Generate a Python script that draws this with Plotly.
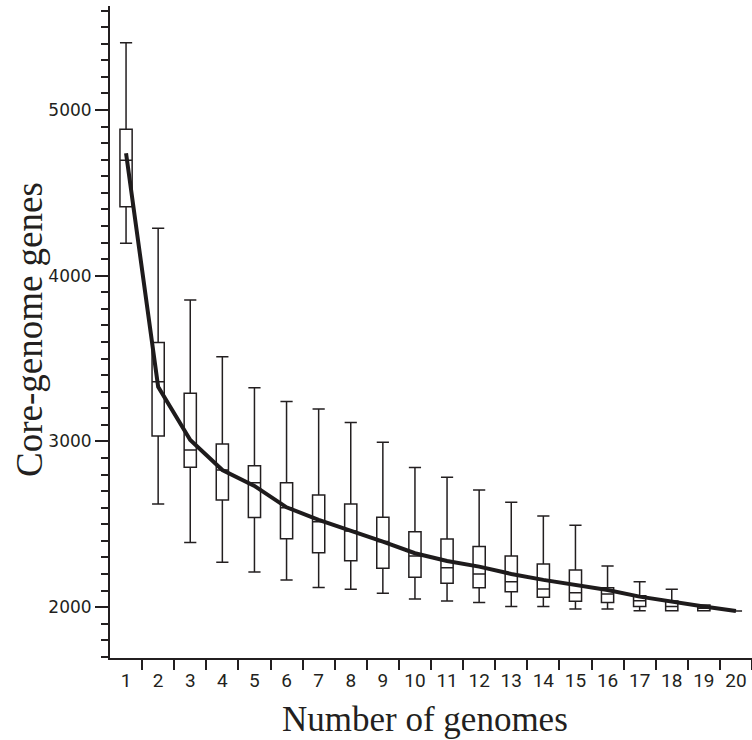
import plotly.graph_objects as go

genomes = list(range(1, 21))
upper = [5406, 4286, 3853, 3511, 3324, 3240, 3196, 3114, 2994, 2843,
         2783, 2707, 2632, 2550, 2494, 2248, 2153, 2107, 2013, 1976]
q3 = [4883, 3596, 3290, 2984, 2853, 2751, 2676, 2622, 2542, 2455,
      2411, 2365, 2308, 2260, 2224, 2117, 2068, 2037, 2013, 1976]
median = [4696, 3360, 2948, 2827, 2751, 2600, 2515, 2459, 2395, 2308,
          2238, 2200, 2153, 2109, 2087, 2079, 2038, 2003, 1993, 1976]
q1 = [4416, 3033, 2844, 2646, 2540, 2413, 2328, 2280, 2234, 2180,
      2143, 2117, 2093, 2059, 2035, 2027, 2003, 1978, 1978, 1976]
lower = [4196, 2622, 2389, 2270, 2212, 2164, 2118, 2107, 2083, 2049,
         2037, 2027, 2003, 2003, 1989, 1989, 1978, 1978, 1978, 1976]
mean = [4739, 3330, 3008, 2827, 2731, 2602, 2526, 2462, 2395, 2325,
        2278, 2244, 2200, 2164, 2133, 2103, 2063, 2031, 2003, 1976]

fig = go.Figure()
fig.add_trace(go.Box(
    x=genomes, q1=q1, median=median, q3=q3,
    lowerfence=lower, upperfence=upper,
    width=0.38, whiskerwidth=1,
    fillcolor="white", line=dict(color="#231f20", width=1.5),
    boxpoints=False, hoverinfo="skip", showlegend=False,
))
fig.add_trace(go.Scatter(
    x=genomes, y=mean, mode="lines",
    line=dict(color="#1e1b1c", width=4),
    hoverinfo="skip", showlegend=False,
))

fig.update_layout(
    width=752, height=740,
    margin=dict(l=110, r=0, t=6, b=82),
    paper_bgcolor="white", plot_bgcolor="white",
    showlegend=False,
    xaxis=dict(
        range=[0.5, 20.5], tickmode="array", tickvals=genomes,
        ticktext=[str(g) for g in genomes],
        ticks="outside", ticklen=4, tickcolor="rgba(0,0,0,0)",
        showline=True, linecolor="#231f20", linewidth=2,
        showgrid=False, zeroline=False, automargin=False,
        tickfont=dict(family="Roboto", size=19, color="#231f20"),
        minor=dict(tickvals=[g + 0.5 for g in genomes[:-1]] + [20.5],
                   ticks="outside", ticklen=10, tickcolor="#231f20",
                   tickwidth=2, showgrid=False),
    ),
    yaxis=dict(
        range=[1692.6, 5627.6], tickmode="array",
        tickvals=[2000, 3000, 4000, 5000],
        ticks="outside", ticklen=13, tickwidth=2, tickcolor="#231f20",
        showline=True, linecolor="#231f20", linewidth=2,
        showgrid=False, zeroline=False, automargin=False,
        tickfont=dict(family="DejaVu Sans", size=17, color="#231f20"),
        minor=dict(dtick=100, tick0=0, ticks="outside", ticklen=7,
                   tickwidth=2, tickcolor="#231f20", showgrid=False),
    ),
    annotations=[
        dict(text="Number of genomes", xref="paper", yref="paper",
             x=(425 - 110) / 642, y=-(719 - 658) / 652, xanchor="center",
             yanchor="middle", showarrow=False,
             font=dict(family="Liberation Serif", size=35, color="#231f20")),
        dict(text="Core-genome genes", xref="paper", yref="paper",
             x=-(110 - 29) / 642, y=(658 - 330) / 652, xanchor="center",
             yanchor="middle", textangle=-90, showarrow=False,
             font=dict(family="Liberation Serif", size=37, color="#231f20")),
    ],
)

fig.write_html("out.html")
